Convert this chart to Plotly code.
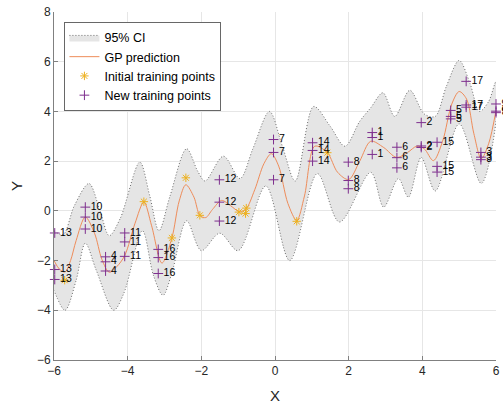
import plotly.graph_objects as go

# GP posterior mean, sampled at the turning points of the curve
mean_x = [-6.0, -5.85, -5.7, -5.55, -5.4, -5.15, -4.9, -4.7, -4.5, -4.3, -4.08, -3.8,
          -3.56, -3.35, -3.07, -2.8, -2.6, -2.42, -2.2, -2.04, -1.88, -1.7, -1.45, -1.2,
          -0.98, -0.8, -0.55, -0.3, -0.1, 0.1, 0.35, 0.59, 0.8, 1.08, 1.42, 1.7, 2.0,
          2.3, 2.6, 2.95, 3.3, 3.6, 3.85, 4.05, 4.3, 4.55, 4.8, 5.0, 5.2, 5.4, 5.6, 5.8, 6.0]
mean_y = [-2.0, -2.35, -2.46, -2.0, -1.2, -0.25, -0.9, -1.95, -2.47, -2.25, -1.8, -0.5,
          0.35, -0.6, -2.1, -1.09, 0.4, 1.05, 0.55, -0.18, -0.27, 0.05, 0.42, 0.2,
          -0.02, 0.05, 0.85, 1.9, 2.3, 1.8, 0.3, -0.38, 0.6, 2.6, 2.34, 1.55, 1.26,
          2.0, 2.8, 2.55, 2.15, 2.35, 2.6, 2.5, 2.02, 2.8, 4.3, 4.8, 4.5, 3.1, 2.1, 2.7, 4.04]

# 95% confidence band edges
upper_x = [-6.0, -5.75, -5.45, -5.05, -4.75, -4.5, -4.2, -3.67, -3.4, -3.15, -2.85, -2.4,
           -2.1, -1.9, -1.4, -0.95, -0.6, -0.15, 0.2, 0.55, 1.05, 1.5, 1.9, 2.3, 2.6,
           2.93, 3.25, 3.66, 4.05, 4.35, 4.65, 5.0, 5.3, 5.55, 5.8, 6.0]
upper_y = [-0.8, -0.95, 0.2, 1.1, 0.0, -1.0, -0.3, 1.96, 0.6, -0.8, 0.6, 2.5,
           1.6, 1.2, 2.2, 1.3, 2.5, 4.0, 2.6, 1.2, 4.2, 3.4, 2.6, 3.6, 4.15,
           4.75, 3.8, 4.85, 3.9, 3.8, 5.0, 6.05, 5.1, 4.0, 4.4, 5.2]
lower_x = [-6.0, -5.7, -5.4, -5.15, -4.85, -4.38, -4.1, -3.6, -3.3, -3.04, -2.8, -2.4,
           -2.0, -1.5, -1.0, -0.25, 0.4, 1.15, 1.75, 2.6, 2.95, 3.35, 3.62, 3.97, 4.35,
           5.0, 5.6, 6.0]
lower_y = [-3.2, -4.0, -2.8, -1.3, -2.4, -4.0, -3.3, -0.8, -2.6, -3.4, -2.5, -0.4,
           -1.6, -0.9, -1.6, 1.0, -2.0, 1.5, -0.45, 1.55, 0.15, 1.3, 0.55, 2.15, 0.8,
           3.5, 1.1, 3.6]

# Initial design
init_x = [-5.71, -3.56, -2.80, -2.42, -2.04, -0.98, -0.80, -0.78, 0.59, 1.42]
init_y = [-2.79, 0.37, -1.09, 1.33, -0.18, -0.05, -0.11, 0.11, -0.42, 2.34]

# Points added by the sequential design, tagged with their iteration
new_x = [2.64, 2.64, 2.64, 3.97, 3.97, 3.97, 5.59, 5.59, 5.59,
         -4.60, -4.60, -4.60, 4.77, 4.77, 4.77, 3.31, 3.31, 3.31,
         -0.04, -0.04, -0.04, 1.99, 1.99, 1.99, 6.0, 6.0, 6.0,
         -5.15, -5.15, -5.15, -4.08, -4.08, -4.08, -1.51, -1.51, -1.51,
         -5.98, -5.98, -5.98, 1.02, 1.02, 1.02, 4.40, 4.40, 4.40,
         -3.17, -3.17, -3.17, 5.19, 5.19, 5.19]
new_y = [3.15, 2.95, 2.27, 3.55, 2.61, 2.55, 2.35, 2.16, 2.06,
         -1.85, -2.05, -2.42, 4.04, 3.80, 3.70, 2.56, 2.14, 1.73,
         2.87, 2.35, 1.25, 1.96, 1.22, 0.89, 4.30, 4.01, 3.95,
         0.15, -0.25, -0.73, -0.89, -1.25, -1.83, 1.25, 0.35, -0.41,
         -0.89, -2.36, -2.76, 2.74, 2.43, 2.00, 2.76, 1.79, 1.56,
         -1.55, -1.88, -2.52, 5.21, 4.26, 4.17]
new_label = [str(k) for k in range(1, 18) for _ in range(3)]

FONT = "Liberation Sans, Arial, sans-serif"

fig = go.Figure()

band_x = upper_x + lower_x[::-1]
band_y = upper_y + lower_y[::-1]
fig.add_trace(go.Scatter(
    x=band_x, y=band_y, mode="lines", fill="toself",
    fillcolor="rgb(229,229,229)",
    line=dict(color="#4A4A4A", width=0.8, dash="1px,2px", shape="spline", smoothing=0.9),
    name="95% CI", hoverinfo="skip"))

fig.add_trace(go.Scatter(
    x=mean_x, y=mean_y, mode="lines",
    line=dict(color="#EE8C5A", width=1, shape="spline", smoothing=0.9),
    name="GP prediction"))

fig.add_trace(go.Scatter(
    x=init_x, y=init_y, mode="markers",
    marker=dict(symbol="asterisk-open", size=7, color="#EDB120",
                line=dict(color="#EDB120", width=1)),
    name="Initial training points", cliponaxis=False))

fig.add_trace(go.Scatter(
    x=new_x, y=new_y, mode="markers+text", text=new_label,
    textposition="middle right",
    textfont=dict(family=FONT, size=10.5, color="#000000"),
    marker=dict(symbol="cross-thin-open", size=7, color="#7E2F8E",
                line=dict(color="#7E2F8E", width=1)),
    name="New training points", cliponaxis=False))

axis_common = dict(
    showgrid=True, gridcolor="#E6E6E6", gridwidth=1, automargin=False,
    zeroline=False, showline=True, linecolor="#808080", linewidth=1,
    ticks="inside", ticklen=4, tickcolor="#808080",
    tickfont=dict(family=FONT, size=12, color="#262626"),
    title_font=dict(family=FONT, size=15, color="#262626"),
)

fig.update_xaxes(range=[-6, 6], tickvals=[-6, -4, -2, 0, 2, 4, 6],
                 title_text="X", title_standoff=13, **axis_common)
fig.update_yaxes(range=[-6, 8], tickvals=[-6, -4, -2, 0, 2, 4, 6, 8],
                 title_text="Y", title_standoff=10, **axis_common)

fig.update_layout(
    width=503, height=406,
    margin=dict(l=54, r=7, t=12, b=46),
    plot_bgcolor="white", paper_bgcolor="white",
    font=dict(family=FONT, size=12, color="#262626"),
    showlegend=True,
    legend=dict(x=0.022, y=0.971, xanchor="left", yanchor="top",
                bgcolor="white", bordercolor="#262626", borderwidth=0.7,
                font=dict(family=FONT, size=12.5, color="#000000"),
                tracegroupgap=0),
)

fig.write_html("out.html")
